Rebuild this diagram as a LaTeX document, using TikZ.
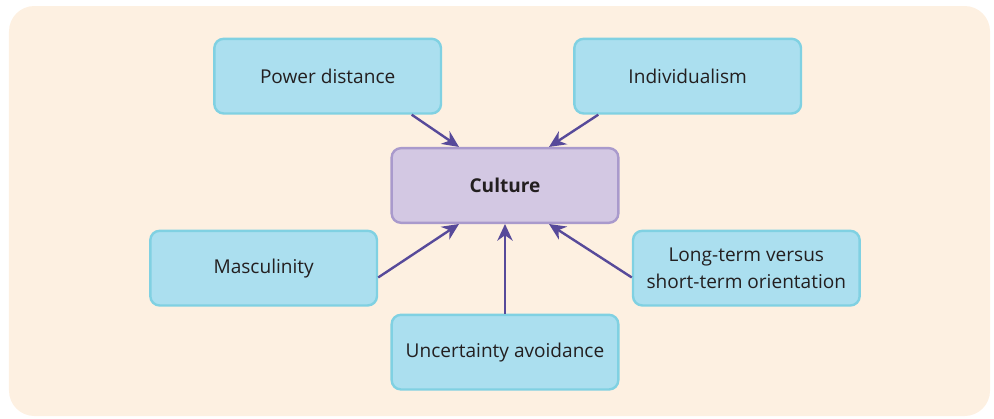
\documentclass[tikz,border=0pt]{standalone}
\usepackage{fontspec}
\setmainfont{Open Sans}
\usepackage{xcolor}
\usepackage{tikz}
\usetikzlibrary{arrows.meta}

\definecolor{pagebg}{HTML}{FDF0E1}
\definecolor{boxfill}{HTML}{ABDFEF}
\definecolor{boxline}{HTML}{80D1E2}
\definecolor{culfill}{HTML}{D3C8E3}
\definecolor{culline}{HTML}{A99ACC}
\definecolor{arrowcol}{HTML}{574A9A}
\definecolor{textcol}{HTML}{231F20}

\begin{document}
\begin{tikzpicture}[node distance=82pt]
\tikzstyle{factor} = [rectangle, rounded corners=7pt, minimum width=170pt, minimum height=56pt, text centered, align=center, line width=1.8pt, draw=boxline, fill=boxfill, text=textcol, font=\fontsize{14.3}{20.5}\selectfont]
\tikzstyle{core} = [factor, draw=culline, fill=culfill, font=\fontsize{14.3}{20.5}\selectfont\bfseries]
\tikzstyle{arrow} = [line width=1.8pt, arrowcol, -{Stealth[length=12.5pt,width=11.5pt]}]

% background panel
\useasboundingbox (-378.75pt,-175.1pt) rectangle (366.75pt,139.1pt);
\fill [pagebg, rounded corners=19pt] (-372pt,-172.9pt) rectangle (363.75pt,134.6pt);

\node (cul) [core] {Culture};
\node (pd) [factor, above of=cul, xshift=-133pt] {Power distance};
\node (ind) [factor, above of=cul, xshift=137pt] {Individualism};
\node (masc) [factor, left of=cul, xshift=-99pt, yshift=-62pt] {Masculinity};
\node (lto) [factor, right of=cul, xshift=99pt, yshift=-62pt] {Long-term versus\\short-term orientation};
\node (unc) [factor, below of=cul, yshift=-43pt] {Uncertainty avoidance};

\draw [arrow] ([xshift=63pt]pd.south) -- ([xshift=-34.5pt]cul.north);
\draw [arrow] ([xshift=-67pt]ind.south) -- ([xshift=33pt]cul.north);
\draw [arrow] ([yshift=-7pt]masc.east) -- ([xshift=-34.5pt]cul.south);
\draw [arrow] (unc) -- (cul);
\draw [arrow] ([yshift=-7pt]lto.west) -- ([xshift=33pt]cul.south);
\end{tikzpicture}
\end{document}
